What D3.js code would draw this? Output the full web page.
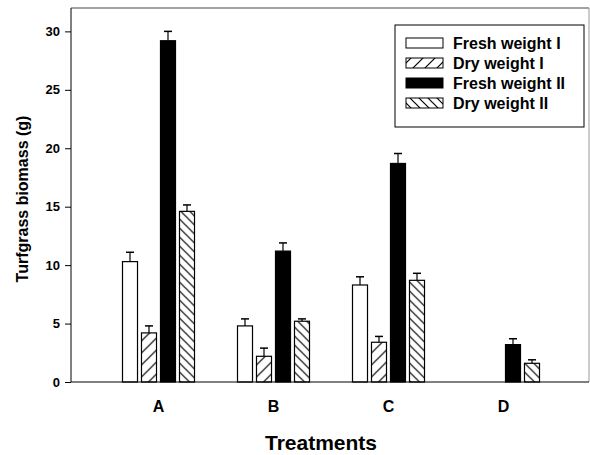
<!DOCTYPE html>
<html>
<head>
<meta charset="utf-8">
<script src="https://cdn.jsdelivr.net/npm/d3@7"></script>
<style>
  body { margin: 0; background: #fff; }
  svg text { font-family: "Liberation Sans", Arial, sans-serif; font-weight: bold; fill: #000; }
</style>
</head>
<body>
<svg id="chart" width="590" height="455"></svg>
<script>
// values
const categories = ['A', 'B', 'C', 'D'];
const seriesNames = ['Fresh weight I', 'Dry weight I', 'Fresh weight II', 'Dry weight II'];
const freshI = [10.3, 4.8, 8.3, 0];
const freshIErr = [0.8, 0.6, 0.7, 0];
const dryI = [4.2, 2.2, 3.4, 0];
const dryIErr = [0.6, 0.7, 0.5, 0];
const freshII = [29.2, 11.2, 18.7, 3.2];
const freshIIErr = [0.8, 0.7, 0.85, 0.5];
const dryII = [14.6, 5.2, 8.7, 1.6];
const dryIIErr = [0.55, 0.2, 0.6, 0.3];
const yTicks = [0, 5, 10, 15, 20, 25, 30];

let svg = d3.select('#chart');

let plotLeft = 71, plotRight = 589, plotTop = 8, plotBottom = 382;

// hatch patterns
let defs = svg.append('defs');
defs.append('pattern')
    .attr('id', 'hatchFwd')
    .attr('patternUnits', 'userSpaceOnUse')
    .attr('width', 12).attr('height', 12)
  .append('path')
    .attr('d', 'M-3,3 L3,-3 M0,12 L12,0 M9,15 L15,9')
    .attr('stroke', '#000').attr('stroke-width', 1.2);
defs.append('pattern')
    .attr('id', 'hatchBack')
    .attr('patternUnits', 'userSpaceOnUse')
    .attr('width', 9).attr('height', 9)
  .append('path')
    .attr('d', 'M-3,6 L3,12 M0,0 L9,9 M6,-3 L12,3')
    .attr('stroke', '#000').attr('stroke-width', 1.2);

let fills = ['#fff', 'url(#hatchFwd)', '#000', 'url(#hatchBack)'];

let table = categories.map((c, i) => ({
    cat: c,
    bars: [
        {s: 0, v: freshI[i], e: freshIErr[i]},
        {s: 1, v: dryI[i], e: dryIErr[i]},
        {s: 2, v: freshII[i], e: freshIIErr[i]},
        {s: 3, v: dryII[i], e: dryIIErr[i]}
    ]
}));

let y = d3.scaleLinear().domain([0, 32]).range([plotBottom, plotTop]);
let x0 = d3.scaleBand().domain(categories).range([101, 561]);
let groupW = 72;
let x1 = d3.scaleBand().domain(d3.range(4)).range([0, groupW]).paddingInner(0.21);

// frame
svg.append('line').attr('x1', plotLeft).attr('x2', plotRight).attr('y1', plotTop).attr('y2', plotTop)
    .attr('stroke', '#444').attr('stroke-width', 1);
svg.append('line').attr('x1', plotRight).attr('x2', plotRight).attr('y1', plotTop).attr('y2', plotBottom)
    .attr('stroke', '#999').attr('stroke-width', 1);

// bars
let groups = svg.append('g').selectAll('g')
    .data(table)
    .join('g')
    .attr('transform', d => `translate(${x0(d.cat) + (x0.bandwidth() - groupW) / 2},0)`);

let bar = groups.selectAll('g')
    .data(d => d.bars.filter(b => b.v > 0))
    .join('g');

bar.append('rect')
    .attr('x', d => x1(d.s))
    .attr('y', d => y(d.v))
    .attr('width', x1.bandwidth())
    .attr('height', d => y(0) - y(d.v))
    .attr('fill', d => fills[d.s])
    .attr('stroke', '#000')
    .attr('stroke-width', 1.2);

// error bars
bar.append('line')
    .attr('x1', d => x1(d.s) + x1.bandwidth() / 2)
    .attr('x2', d => x1(d.s) + x1.bandwidth() / 2)
    .attr('y1', d => y(d.v))
    .attr('y2', d => y(d.v + d.e))
    .attr('stroke', '#000')
    .attr('stroke-width', 1.2);
bar.append('line')
    .attr('x1', d => x1(d.s) + x1.bandwidth() / 2 - 4)
    .attr('x2', d => x1(d.s) + x1.bandwidth() / 2 + 4)
    .attr('y1', d => y(d.v + d.e))
    .attr('y2', d => y(d.v + d.e))
    .attr('stroke', '#000')
    .attr('stroke-width', 1.5);

// y axis
let yAxis = svg.append('g')
    .attr('transform', `translate(${plotLeft},0)`)
    .call(d3.axisLeft(y).tickValues(yTicks).tickSize(6).tickPadding(5));
yAxis.select('.domain').attr('d', `M0,${plotTop}V${plotBottom}`).attr('stroke', '#000');
yAxis.selectAll('text').style('font-size', '13px');

// x axis
let xAxis = svg.append('g')
    .attr('transform', `translate(0,${plotBottom})`)
    .call(d3.axisBottom(x0).tickSize(0).tickPadding(19));
xAxis.select('.domain').attr('d', `M${plotLeft},0H${plotRight}`).attr('stroke', '#000');
xAxis.selectAll('text').style('font-size', '16px');

// axis titles
svg.append('text')
    .attr('transform', 'translate(28,199) rotate(-90)')
    .attr('text-anchor', 'middle')
    .style('font-size', '16px')
    .text('Turfgrass biomass (g)');
svg.append('text')
    .attr('x', 321).attr('y', 450)
    .attr('text-anchor', 'middle')
    .style('font-size', '21px')
    .text('Treatments');

// legend
let legend = svg.append('g');
legend.append('rect')
    .attr('x', 395).attr('y', 25).attr('width', 189).attr('height', 102)
    .attr('fill', '#fff').attr('stroke', '#000');
let item = legend.selectAll('g.item')
    .data(seriesNames)
    .join('g')
    .attr('class', 'item')
    .attr('transform', (d, i) => `translate(406,${43 + i * 20})`);
item.append('rect')
    .attr('x', 0).attr('y', -5).attr('width', 37).attr('height', 10)
    .attr('fill', (d, i) => fills[i])
    .attr('stroke', '#000');
item.append('text')
    .attr('x', 47).attr('y', 6)
    .style('font-size', '16px')
    .text(d => d);
</script>
</body>
</html>
